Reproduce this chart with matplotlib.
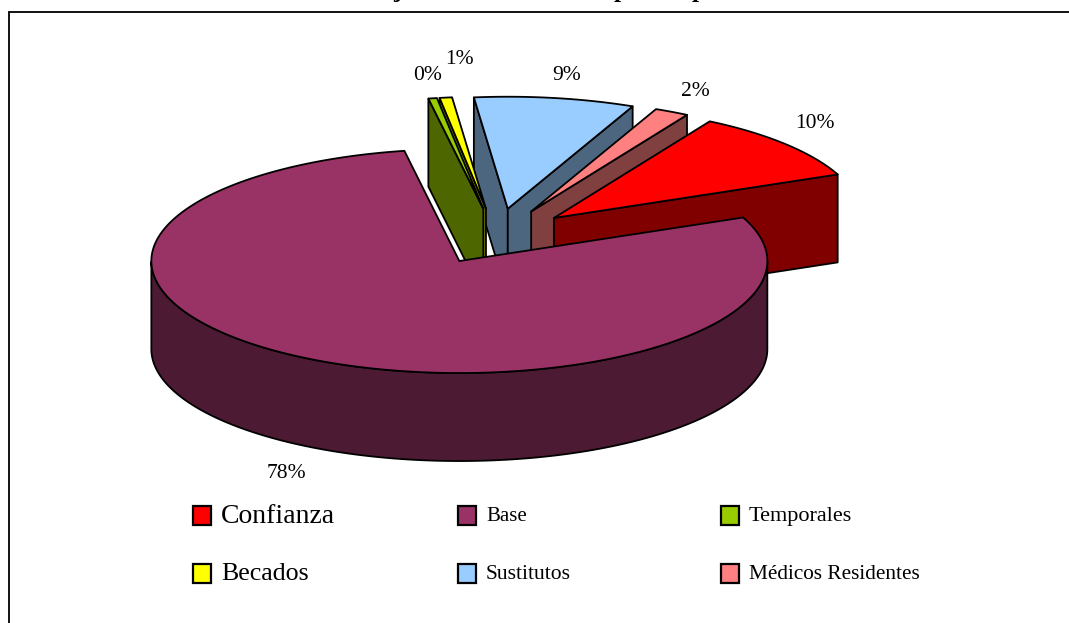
import numpy as np
import matplotlib
matplotlib.use('Agg')
from matplotlib import pyplot as plt
from matplotlib.patches import Polygon, Rectangle

# Datos de la grafica
categorias = ['Confianza', 'Base', 'Temporales', 'Becados', 'Sustitutos', 'Médicos Residentes']
valores = [10.2, 78.5, 0.45, 0.65, 8.4, 1.8]
etiquetas = ['10%', '78%', '0%', '1%', '9%', '2%']
colores = ['#FF0000', '#993366', '#99CC00', '#FFFF00', '#99CCFF', '#FF8080']
paredes = ['#800000', '#4D1A33', '#4D6600', '#808000', '#4D6680', '#804040']
tam_leyenda = [20, 15, 16, 18.6, 15.5, 15.3]

# Geometria del pastel en pixeles
cx, cy = 496, 236.4
rx, ry = 308, 112
alto = 88
explode = 0.25
inicio = 59.6

plt.rcParams['font.family'] = ['Liberation Serif', 'DejaVu Serif']
fig = plt.figure(figsize=(10.69, 6.23), dpi=100)
ax = fig.add_axes([0, 0, 1, 1])
ax.set_xlim(0, 1069)
ax.set_ylim(623, 0)
ax.axis('off')

# Marco (sin lado derecho ni inferior)
ax.plot([8.5, 8.5, 1069], [623, 12, 12], color='black', lw=1.3, solid_joinstyle='miter')

# Restos del titulo cortado
for x, t in [(397, 'j'), (621, 'p'), (699, 'p')]:
    ax.text(x, -2.5, t, fontsize=18, fontweight='bold', ha='center', va='baseline', clip_on=True)

fracs = np.array(valores) / sum(valores) * 360
fin = inicio - np.cumsum(fracs)
ini = fin + fracs


def punto(a, dx, dy):
    return dx + rx * np.cos(np.radians(a)), dy - ry * np.sin(np.radians(a))


def dibuja(i, z):
    a1, a2 = ini[i], fin[i]
    m = np.radians((a1 + a2) / 2)
    ox = cx + explode * rx * np.cos(m)
    oy = cy - explode * ry * np.sin(m)
    kw = dict(edgecolor='black', lw=1.3, joinstyle='round', zorder=z)

    # paredes rectas que miran al frente
    for a, normal in [(a1, a1 + 90), (a2, a2 - 90)]:
        if np.sin(np.radians(normal)) < 0:
            x, y = punto(a, ox, oy)
            ax.add_patch(Polygon([(ox, oy), (x, y), (x, y + alto), (ox, oy + alto)],
                                 facecolor=paredes[i], **kw))

    # pared curva, solo la mitad de abajo
    ang = np.linspace(a1, a2, 400)
    baja = ang[np.sin(np.radians(ang)) < 0]
    if len(baja) > 1:
        xs, ys = punto(baja, ox, oy)
        pts = list(zip(xs, ys)) + list(zip(xs[::-1], ys[::-1] + alto))
        ax.add_patch(Polygon(pts, facecolor=paredes[i], **kw))

    # tapa
    xs, ys = punto(ang, ox, oy)
    ax.add_patch(Polygon([(ox, oy)] + list(zip(xs, ys)), facecolor=colores[i], **kw))


# De atras hacia adelante; Base va al final y tapa a las demas
for z, i in enumerate([4, 3, 2, 5, 0, 1]):
    dibuja(i, z + 2)

# Etiquetas de porcentaje
pos_etiquetas = [(815, 124), (286, 473), (428, 75), (459, 59), (567, 75), (695, 91)]
for (x, y), t in zip(pos_etiquetas, etiquetas):
    ax.text(x, y, t, fontsize=15.5, ha='center', va='center', color='black', zorder=10)

# Leyenda
cols = [193, 458, 721]
filas = [515, 573]
for k, nombre in enumerate(categorias):
    x = cols[k % 3]
    y = filas[k // 3]
    ax.add_patch(Rectangle((x, y - 9.5), 18, 19, facecolor=colores[k], edgecolor='black', lw=1.6, zorder=5))
    ax.text(x + 28, y + 1.5, nombre, fontsize=tam_leyenda[k], ha='left', va='center', color='black')

fig.savefig('out.png', dpi=100)
